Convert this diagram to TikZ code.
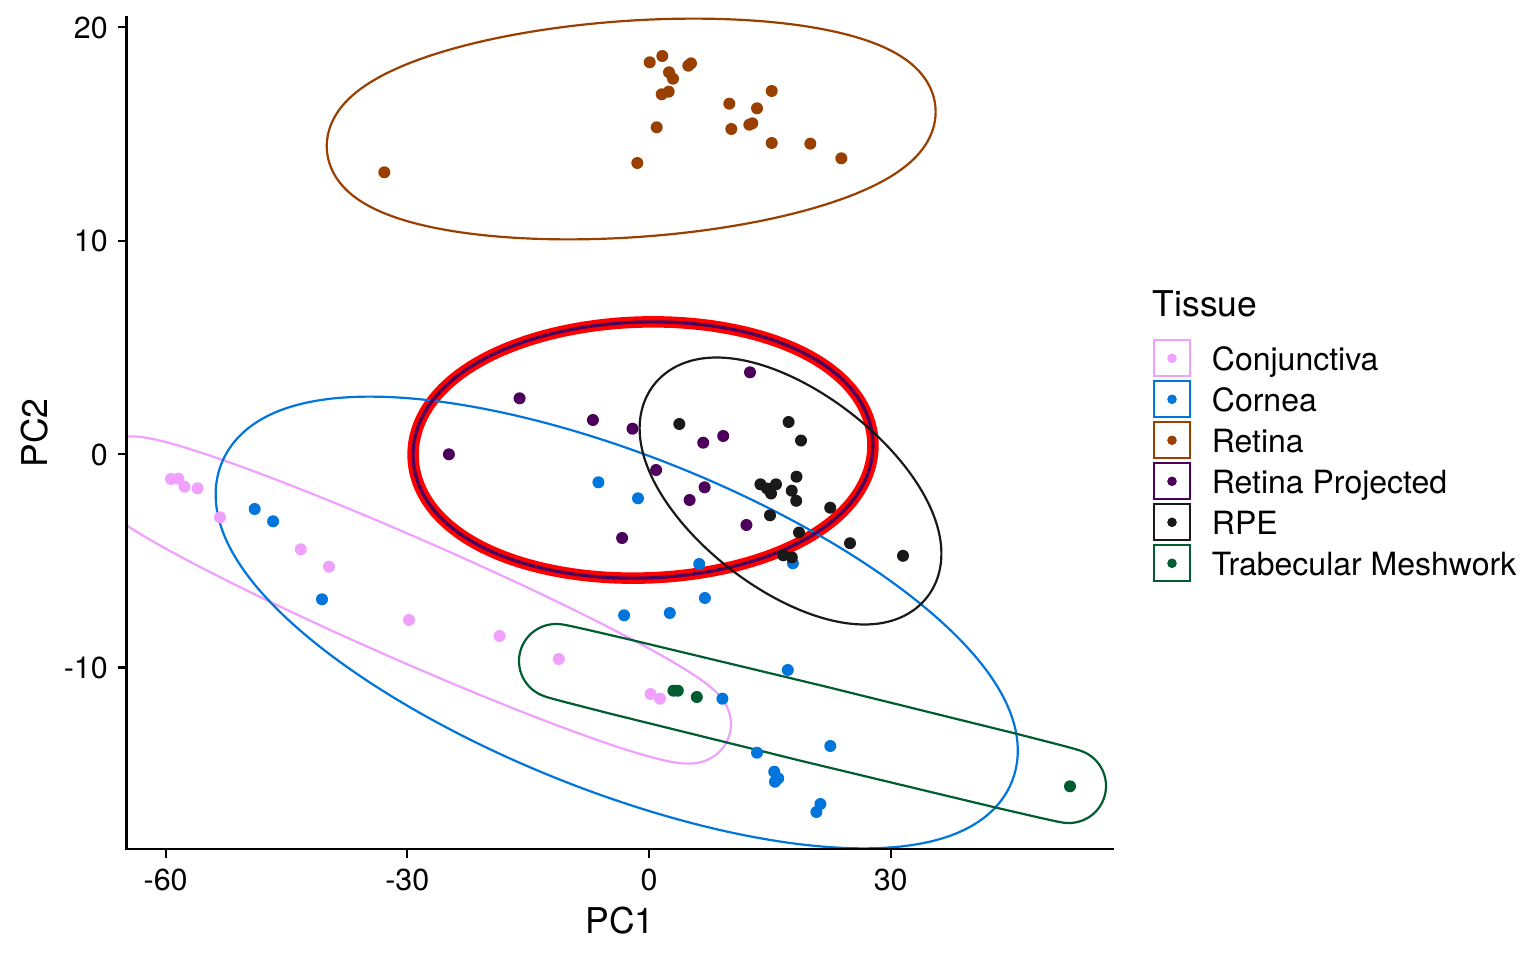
\documentclass[tikz,border=0pt]{standalone}
\usepackage{fontspec}
\setmainfont{TeX Gyre Heros}
\definecolor{cConj}{HTML}{F0A0FF}
\definecolor{cCorn}{HTML}{0075DC}
\definecolor{cRet}{HTML}{993F00}
\definecolor{cRP}{HTML}{4C005C}
\definecolor{cRPE}{HTML}{191919}
\definecolor{cTM}{HTML}{005C31}
\definecolor{cHi}{HTML}{FF0000}
\newcommand{\tickfont}{\fontsize{30.4}{36}\selectfont}
\newcommand{\legfont}{\fontsize{32}{38}\selectfont}
\newcommand{\titfont}{\fontsize{35.5}{42}\selectfont}
% offset (expanded) ellipse: style, cx, cy, a0, b0, theta, r
\newcommand{\markell}[7]{%
  \pgfmathsetmacro{\mkA}{#4/100}%
  \pgfmathsetmacro{\mkB}{#5/100}%
  \pgfmathsetmacro{\mkAA}{\mkA*\mkA}%
  \pgfmathsetmacro{\mkBB}{\mkB*\mkB}%
  \pgfmathsetmacro{\mkC}{cos(#6)}%
  \pgfmathsetmacro{\mkS}{sin(#6)}%
  \draw[#1] plot[variable=\ang, domain=0:359.5, samples=720]
    ({#2 + \mkC*(100*\mkAA*cos(\ang)/veclen(\mkA*cos(\ang),\mkB*sin(\ang)) + #7*cos(\ang)) - \mkS*(100*\mkBB*sin(\ang)/veclen(\mkA*cos(\ang),\mkB*sin(\ang)) + #7*sin(\ang))},
     {#3 + \mkS*(100*\mkAA*cos(\ang)/veclen(\mkA*cos(\ang),\mkB*sin(\ang)) + #7*cos(\ang)) + \mkC*(100*\mkBB*sin(\ang)/veclen(\mkA*cos(\ang),\mkB*sin(\ang)) + #7*sin(\ang))}) -- cycle;%
}
\tikzset{
  mark line/.style={line width=2.2pt, line join=round},
  axis line/.style={line width=2.1pt, black},
  legkey/.style={draw=#1, line width=2pt, fill=white, minimum width=36pt, minimum height=36pt, inner sep=0pt},
}
\begin{document}
\begin{tikzpicture}[x=1pt,y=-1pt]
\fill[white] (0,0) rectangle (1536,960);
\path[use as bounding box] (0,0) rectangle (1536,960);

% ---- marks (ellipses) ----
\begin{scope}
\clip (126.5,17) rectangle (1114,849);
\markell{line width=11.5pt, cHi}{643}{450}{193}{91}{-1.8}{37}
\markell{mark line, cConj}{410}{600}{310}{23}{23.75}{37}
\markell{mark line, cCorn}{616.7}{622.5}{389}{130}{21.95}{37}
\markell{mark line, cRet}{631.2}{129}{268}{71.2}{-3.95}{37}
\markell{line width=3.2pt, cRP}{643}{450}{193}{91}{-1.8}{37}
\markell{mark line, cRPE}{790.5}{491}{136}{61.5}{37.8}{37}
\markell{mark line, cTM}{812.5}{723.5}{264}{2}{13.69}{37}
\end{scope}

% ---- points ----
\foreach \p in {(171,479),(178.4,478.7),(184.5,486.7),(197.6,488.3),(220,517.3),(300.8,549.3),(329,566.7),(409,620),(499.6,636),(558.8,659),(650.6,694),(660,698.7)}
  \fill[cConj] \p circle (6);
\foreach \p in {(254.7,509),(273.1,521.3),(322,599.3),(598.4,482.3),(638,498.3),(699.2,564),(792.9,563.3),(704.9,598),(624.1,615.3),(669.8,613),(787.8,670),(722.4,698.7),(757,752.7),(830.3,746),(774.2,771.7),(778.2,778.3),(775,781.7),(820.4,804),(816.4,812)}
  \fill[cCorn] \p circle (6);
\foreach \p in {(649.7,62.3),(662.3,56),(669,72.3),(673,78.7),(661.7,94.3),(668.7,91.7),(688.3,65.7),(691,63.3),(656.7,127.3),(637.3,163),(729.3,103.7),(731.3,129),(757,108.3),(771.7,91),(749.3,124.7),(752.3,123.3),(771.7,143),(810.3,143.7),(841.3,158.3),(384.3,172.3)}
  \fill[cRet] \p circle (6);
\foreach \p in {(448.9,454.3),(519.6,398.3),(592.9,420),(632.5,428.7),(750,372.3),(703.2,442.7),(723.2,436),(656.1,470),(704.6,487.3),(689.6,500),(746.4,525),(622.1,538)}
  \fill[cRP] \p circle (6);
\foreach \p in {(679.3,424),(788.6,422),(801,440.5),(796.5,476.7),(760.4,484.3),(767,488.5),(776,484.3),(771,493.5),(791.7,490.7),(796.2,500.8),(830.2,507.7),(770,515.3),(799,532.5),(850,543.2),(903,555.8),(783.2,555.3),(791.8,557.3)}
  \fill[cRPE] \p circle (6);
\foreach \p in {(673.4,690.7),(677.8,690.7),(696.8,697),(1070,786.3)}
  \fill[cTM] \p circle (6);

% ---- axes ----
\coordinate (axtop) at (126.5,17);
\coordinate (axorig) at (126.5,849);
\coordinate (axright) at (1113,849);
\draw[axis line, line cap=rect] (axtop) -- (axorig) -- (axright);
\foreach \y/\lab/\nm in {27.3/20/a, 240.7/10/b, 454.1/0/c, 667.5/-10/d}{
  \draw[axis line] (117.5,\y) -- (126.5,\y);
  \node[anchor=base east, inner sep=0pt, font=\tickfont] (ytick\nm) at (108,\y+11.2) {\lab};
}
\foreach \x/\lab/\nm in {165.6/-60/a, 407.3/-30/b, 649/0/c, 890.7/30/d}{
  \draw[axis line] (\x,849) -- (\x,858.3);
  \node[anchor=base, inner sep=0pt, font=\tickfont] (xtick\nm) at (\x,890.7) {\lab};
}
\node[anchor=base, inner sep=0pt, font=\titfont] (xtitle) at (620,933.3) {PC1};
\node[anchor=base, inner sep=0pt, rotate=90, font=\titfont] (ytitle) at (47,433) {PC2};

% ---- legend ----
\node[anchor=base west, inner sep=0pt, font=\titfont] (legtitle) at (1152.5,316.7) {Tissue};
\foreach \i/\c/\t in {0/cConj/Conjunctiva, 1/cCorn/Cornea, 2/cRet/Retina, 3/cRP/Retina Projected, 4/cRPE/RPE, 5/cTM/Trabecular Meshwork}{
  \node[legkey=\c] (key\i) at (1172,358.3+41*\i) {};
  \fill[\c] (key\i.center) circle (4.8);
  \node[anchor=base west, inner sep=0pt, font=\legfont] (lab\i) at (1211.7,370.8+41*\i) {\t};
}
\end{tikzpicture}
\end{document}
